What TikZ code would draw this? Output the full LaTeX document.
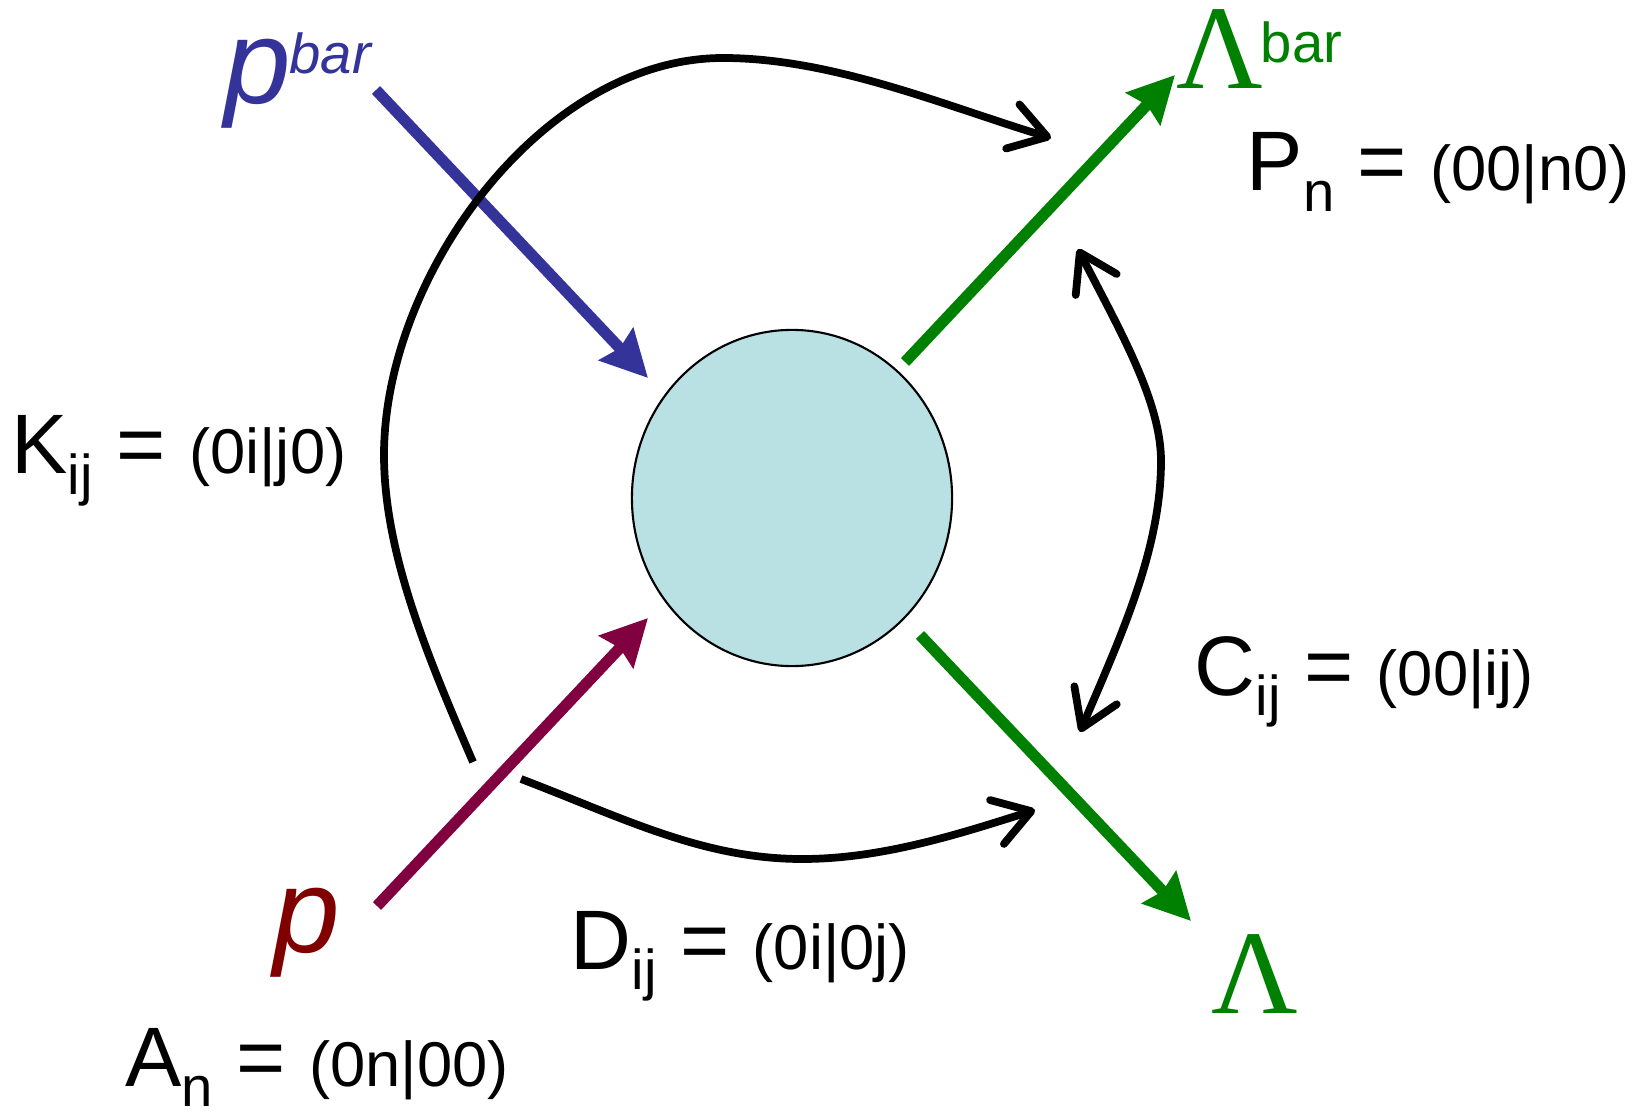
\documentclass[tikz,border=0pt]{standalone}
\usepackage{fontspec}
\setmainfont{Liberation Sans}
\newfontfamily\lamfont{Liberation Serif}
\usepackage{tikz}
\usetikzlibrary{arrows.meta, shapes.geometric}
\definecolor{pbarblue}{RGB}{51,51,153}
\definecolor{pred}{RGB}{128,0,0}
\definecolor{pline}{RGB}{128,0,64}
\definecolor{lamgreen}{RGB}{0,128,0}
\definecolor{blobfill}{RGB}{185,224,227}
% subscript and bracket part of the integral labels
\newcommand{\sbs}[1]{\raisebox{-0.2cm}{\fontsize{16}{18}\selectfont #1}}
\newcommand{\brk}[1]{{\fontsize{18}{21}\selectfont #1}}
\tikzset{
  intlab/.style={anchor=base west, inner sep=0pt, font=\fontsize{24}{28}\selectfont},
  ptcl/.style={anchor=base west, inner sep=0pt, font=\fontsize{34}{40}\selectfont\itshape},
  lam/.style={anchor=base west, inner sep=0pt, text=lamgreen, font=\fontsize{34}{40}\selectfont\lamfont},
  barlab/.style={anchor=base west, inner sep=0pt},
  blob/.style={ellipse, draw=black, line width=0.6pt, fill=blobfill,
               minimum width=3.2cm, minimum height=3.36cm, inner sep=0pt},
  leg/.style={line width=3.2pt, -{Stealth[length=4.6mm, width=4.6mm, inset=0.5mm]}},
  barb/.tip={Straight Barb[length=3.6mm, width=4.6mm, round]},
  mix/.style={line width=2.2pt, line join=round, -barb},
}

\begin{document}
\begin{tikzpicture}[x=0.01cm, y=-0.01cm]
\useasboundingbox (0,0) rectangle (1637,1116);

\node[blob] (blob) at (792,498) {};

% incoming and outgoing particles
\coordinate (pbarin)  at (376,90);
\coordinate (pbartip) at (648,378);
\coordinate (pin)     at (377,906);
\coordinate (ptip)    at (648,618);
\coordinate (lbarin)  at (905,362);
\coordinate (lbartip) at (1175,75);
\coordinate (lin)     at (920,635);
\coordinate (ltip)    at (1191,921);

\draw[leg, pbarblue] (pbarin) -- (pbartip);
\draw[leg, pline]    (pin) -- (ptip);
\draw[leg, lamgreen] (lbarin) -- (lbartip);
\draw[leg, lamgreen] (lin) -- (ltip);

% spin transfer curves
\coordinate (kst) at (473,762);
\coordinate (ken) at (1051,138);
\coordinate (dst) at (521,779);
\coordinate (den) at (1035,810);
\coordinate (ctop) at (1078,249);
\coordinate (cbot) at (1080,732);

\draw[mix] (kst) .. controls (430,662) and (384,555) .. (384,455)
                 .. controls (384,275) and (543,58) .. (723,58)
                 .. controls (833,58) and (945,106) .. (ken);
\draw[mix] (dst) .. controls (621,817) and (702,859) .. (802,859)
                 .. controls (882,859) and (959,834) .. (den);
\draw[mix, barb-barb] (ctop)
                 .. controls (1119,329) and (1161,401) .. (1161,461)
                 .. controls (1161,551) and (1119,640) .. (cbot);

% particle names
\node[ptcl, text=pbarblue] (pbar) at (224,104) {p};
\node[barlab, text=pbarblue, font=\fontsize{16}{18}\selectfont\itshape] (pbarsup) at (289,74) {bar};
\node[ptcl, text=pred] (p) at (273,952) {p};
\node[lam] (lbar) at (1176,89) {Λ};
\node[barlab, text=lamgreen, font=\fontsize{16}{18}\selectfont] (lbarsup) at (1260,63) {bar};
\node[lam] (lam) at (1211,1013) {Λ};

% spin observables
\node[intlab] (pn) at (1246,191) {P\sbs{n} = \brk{(00|n0)}};
\node[intlab] (kij) at (11,474) {K\sbs{ij} = \brk{(0i|j0)}};
\node[intlab] (cij) at (1194,695) {C\sbs{ij} = \brk{(00|ij)}};
\node[intlab] (dij) at (570,969) {D\sbs{ij} = \brk{(0i|0j)}};
\node[intlab] (an) at (125,1086) {A\sbs{n} = \brk{(0n|00)}};
\end{tikzpicture}
\end{document}
